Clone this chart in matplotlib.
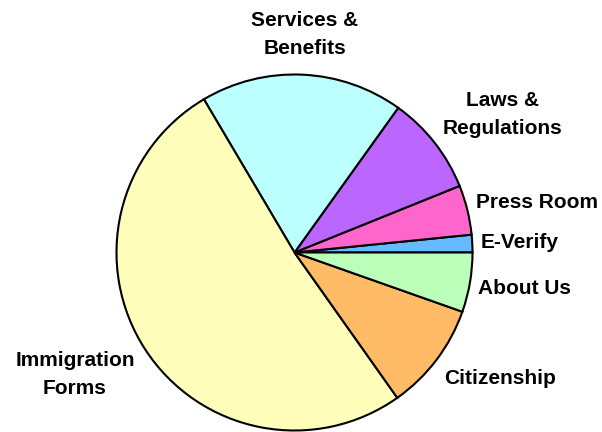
import matplotlib.pyplot as plt

# slice data, counter-clockwise from 3 o'clock
categories = ["E-Verify", "Press Room", "Laws &\nRegulations", "Services &\nBenefits",
              "Immigration\nForms", "Citizenship", "About Us"]
shares = [1.6, 4.5, 9.0, 18.4, 51.3, 9.8, 5.4]
colors = ["#66BBFF", "#FF66CC", "#BB66FF", "#BBFFFF", "#FFFFBB", "#FFBB66", "#BBFFBB"]

# label centres in pixels (x from left, y from top)
label_px = [(520, 242), (537, 203), (503, 114), (305, 35), (75, 374), (500, 378), (525, 288)]

W, H = 602, 432
cx, cy, R = 294.5, 252.5, 178

fig = plt.figure(figsize=(W / 100, H / 100), dpi=100)
ax = fig.add_axes([(cx - R) / W, (H - cy - R) / H, 2 * R / W, 2 * R / H])

ax.pie(shares, colors=colors, startangle=0, counterclock=True,
       wedgeprops=dict(edgecolor="black", linewidth=1.5))
ax.set_xlim(-1, 1)
ax.set_ylim(-1, 1)
ax.set_aspect("auto")
ax.axis("off")

for name, (px, py) in zip(categories, label_px):
    ax.text((px - cx) / R, (cy - py) / R, name, ha="center", va="center",
            fontsize=15, fontweight="bold", family="Liberation Sans",
            linespacing=1.6, clip_on=False)

fig.savefig("out.png", dpi=100)
